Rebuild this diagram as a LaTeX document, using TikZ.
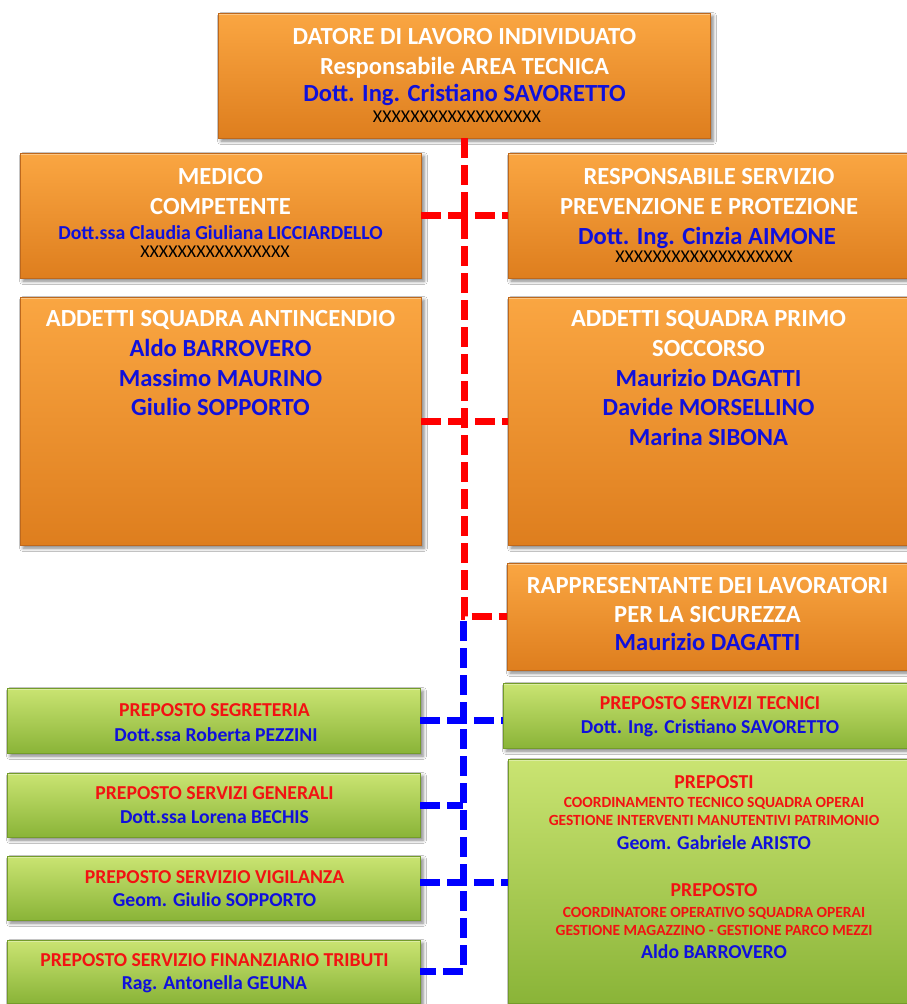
\documentclass[tikz,border=0pt]{standalone}
\usepackage{fontspec}
\setmainfont{Carlito}
\usetikzlibrary{shadows.blur,calc}
\definecolor{otop}{RGB}{250,166,66}
\definecolor{obot}{RGB}{222,126,30}
\definecolor{oedge}{RGB}{190,104,28}
\definecolor{gtop}{RGB}{202,228,114}
\definecolor{gbot}{RGB}{138,180,56}
\definecolor{gedge}{RGB}{116,156,42}
\definecolor{nblue}{RGB}{16,16,220}
\definecolor{nred}{RGB}{242,18,18}
\definecolor{lred}{RGB}{255,0,0}
\definecolor{lblue}{RGB}{0,0,255}
\begin{document}
\begin{tikzpicture}[x=1pt,y=-1pt,
 box/.style={rectangle, inner sep=0pt, outer sep=0pt, line width=0.8pt,
   blur shadow={shadow xshift=3pt,shadow yshift=-3pt,shadow blur radius=3.5pt,shadow opacity=50},
   path picture={\draw[white, opacity=0.35, line width=3pt]
     (path picture bounding box.north west) -- (path picture bounding box.north east);}},
 obox/.style={box, draw=oedge, top color=otop, bottom color=obot},
 gbox/.style={box, draw=gedge, top color=gtop, bottom color=gbot},
 tx/.style={anchor=base, inner sep=0pt, font=\bfseries\fontsize{24.6}{24.6}\selectfont},
 wt/.style={tx, text=white},
 bt/.style={tx, text=nblue},
 mbt/.style={tx, text=nblue, font=\bfseries\fontsize{19.8}{19.8}\selectfont},
 xt/.style={anchor=base, inner sep=0pt, font=\fontsize{18}{18}\selectfont, text=black},
 gr/.style={anchor=base, inner sep=0pt, font=\bfseries\fontsize{19.7}{19.7}\selectfont, text=nred},
 gb/.style={anchor=base, inner sep=0pt, font=\bfseries\fontsize{19.7}{19.7}\selectfont, text=nblue},
 sr/.style={anchor=base, inner sep=0pt, font=\bfseries\fontsize{15.5}{15.5}\selectfont, text=nred},
 rdash/.style={draw=lred, line width=7pt, dash pattern=on 20pt off 7pt},
 bdash/.style={draw=lblue, line width=7pt, dash pattern=on 20pt off 7pt},
]
\clip (0,0) rectangle (907,1004);
\fill[white] (0,0) rectangle (907,1004);

% boxes
\node[obox, minimum width=492pt, minimum height=125pt] (top) at (464,75.5) {};
\node[obox, minimum width=401pt, minimum height=125pt] (med) at (220.5,215.5) {};
\node[obox, minimum width=404pt, minimum height=125pt] (rspp) at (710,215.5) {};
\node[obox, minimum width=401pt, minimum height=248pt] (anti) at (220.5,421) {};
\node[obox, minimum width=404pt, minimum height=248pt] (primo) at (710,421) {};
\node[obox, minimum width=404pt, minimum height=107pt] (rls) at (709,616.5) {};
\node[gbox, minimum width=413pt, minimum height=65pt] (seg) at (213.5,720.5) {};
\node[gbox, minimum width=412pt, minimum height=65pt] (tec) at (709,715.5) {};
\node[gbox, minimum width=413pt, minimum height=64pt] (gen) at (213.5,805) {};
\node[gbox, minimum width=413pt, minimum height=64pt] (vig) at (213.5,888) {};
\node[gbox, minimum width=413pt, minimum height=63pt] (fin) at (213.5,971.5) {};
\node[gbox, minimum width=412pt, minimum height=244pt] (prep) at (714,881) {};

% red connectors
\draw[rdash] (top.south) |- (rls.west);
\draw[rdash] (med.east) -- (rspp.west);
\draw[rdash] (anti.east) -- (primo.west);

% blue connectors
\coordinate (btop) at (463,621);
\draw[bdash] (btop) |- (fin.east);
\draw[bdash] (seg.east) -- (seg.east -| tec.west);
\draw[bdash] (gen.east) -- (gen.east -| btop);
\coordinate (vy) at ($(vig.east)+(0,-6)$);
\draw[bdash] (vy) -- (vy -| prep.west);

% texts: top
\node[wt] (top1) at (464.5,44) {DATORE DI LAVORO INDIVIDUATO};
\node[wt] (top2) at (464.5,74) {Responsabile AREA TECNICA};
\node[bt] (top3) at (464.5,101) {Dott. Ing. Cristiano SAVORETTO};
\node[xt] (top4) at (457,122.5) {XXXXXXXXXXXXXXXXXX};
% medico
\node[wt] (med1) at (220.5,184.4) {MEDICO};
\node[wt] (med2) at (220.5,214.4) {COMPETENTE};
\node[mbt] (med3) at (220.5,239) {Dott.ssa Claudia Giuliana LICCIARDELLO};
\node[xt] (med4) at (215,257.5) {XXXXXXXXXXXXXXXX};
% rspp
\node[wt] (rspp1) at (709,184.4) {RESPONSABILE SERVIZIO};
\node[wt] (rspp2) at (709,214.4) {PREVENZIONE E PROTEZIONE};
\node[bt] (rspp3) at (707,244.4) {Dott. Ing. Cinzia AIMONE};
\node[xt] (rspp4) at (704,262.5) {XXXXXXXXXXXXXXXXXXX};
% antincendio
\node[wt] (anti1) at (220.5,326.7) {ADDETTI SQUADRA ANTINCENDIO};
\node[bt] (anti2) at (220.5,356.7) {Aldo BARROVERO};
\node[bt] (anti3) at (220.5,386.7) {Massimo MAURINO};
\node[bt] (anti4) at (220.5,415.7) {Giulio SOPPORTO};
% primo soccorso
\node[wt] (primo1) at (708.5,326.7) {ADDETTI SQUADRA PRIMO};
\node[wt] (primo2) at (708.5,356.7) {SOCCORSO};
\node[bt] (primo3) at (708.5,386.7) {Maurizio DAGATTI};
\node[bt] (primo4) at (708.5,415.7) {Davide MORSELLINO};
\node[bt] (primo5) at (708.5,445.7) {Marina SIBONA};
% rls
\node[wt] (rls1) at (707.5,593.7) {RAPPRESENTANTE DEI LAVORATORI};
\node[wt] (rls2) at (707.5,622.7) {PER LA SICUREZZA};
\node[bt] (rls3) at (707.5,650.7) {Maurizio DAGATTI};
% green left
\node[gr] (seg1) at (214.5,716.3) {PREPOSTO SEGRETERIA};
\node[gb] (seg2) at (216,741.3) {Dott.ssa Roberta PEZZINI};
\node[gr] (gen1) at (214.5,799.3) {PREPOSTO SERVIZI GENERALI};
\node[gb] (gen2) at (214.5,823.3) {Dott.ssa Lorena BECHIS};
\node[gr] (vig1) at (214.5,883.3) {PREPOSTO SERVIZIO VIGILANZA};
\node[gb] (vig2) at (214.5,906.3) {Geom. Giulio SOPPORTO};
\node[gr] (fin1) at (214.5,966.3) {PREPOSTO SERVIZIO FINANZIARIO TRIBUTI};
\node[gb] (fin2) at (214.5,989.3) {Rag. Antonella GEUNA};
% green right
\node[gr] (tec1) at (710,709.3) {PREPOSTO SERVIZI TECNICI};
\node[gb] (tec2) at (710,733.3) {Dott. Ing. Cristiano SAVORETTO};
\node[gr] (prep1) at (714,788.3) {PREPOSTI};
\node[sr] (prep2) at (714,807) {COORDINAMENTO TECNICO SQUADRA OPERAI};
\node[sr] (prep3) at (714,825) {GESTIONE INTERVENTI MANUTENTIVI PATRIMONIO};
\node[gb] (prep4) at (714,849.3) {Geom. Gabriele ARISTO};
\node[gr] (prep5) at (714,896.3) {PREPOSTO};
\node[sr] (prep6) at (714,917) {COORDINATORE OPERATIVO SQUADRA OPERAI};
\node[sr] (prep7) at (714,935) {GESTIONE MAGAZZINO - GESTIONE PARCO MEZZI};
\node[gb] (prep8) at (714,958.3) {Aldo BARROVERO};
\end{tikzpicture}
\end{document}
